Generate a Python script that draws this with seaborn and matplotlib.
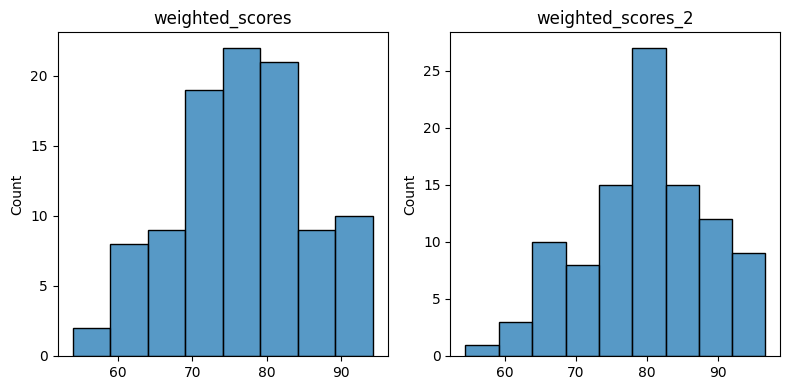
import numpy as np
import pandas as pd
import matplotlib
matplotlib.use("Agg")
import matplotlib.pyplot as plt
import seaborn as sns

# histogram 1: weighted_scores
edges_1 = [53.85, 58.9, 64.0, 69.05, 74.1, 79.15, 84.2, 89.25, 94.3]
counts_1 = [2, 8, 9, 19, 22, 21, 9, 10]

# histogram 2: weighted_scores_2
edges_2 = [54.5, 59.2, 63.9, 68.6, 73.2, 77.9, 82.6, 87.3, 91.95, 96.6]
counts_2 = [1, 3, 10, 8, 15, 27, 15, 12, 9]


def centers(edges):
    e = np.asarray(edges)
    return (e[:-1] + e[1:]) / 2


fig, axes = plt.subplots(1, 2, figsize=(7.89, 3.9), dpi=100)

sns.histplot(x=centers(edges_1), weights=counts_1, bins=edges_1, ax=axes[0])
axes[0].set_title("weighted_scores")
axes[0].set_ylabel("Count")

sns.histplot(x=centers(edges_2), weights=counts_2, bins=edges_2, ax=axes[1])
axes[1].set_title("weighted_scores_2")
axes[1].set_ylabel("Count")

fig.subplots_adjust(left=0.0729, right=0.9892, bottom=0.0872, top=0.9167, wspace=0.19)
plt.savefig("out.png", dpi=100)
